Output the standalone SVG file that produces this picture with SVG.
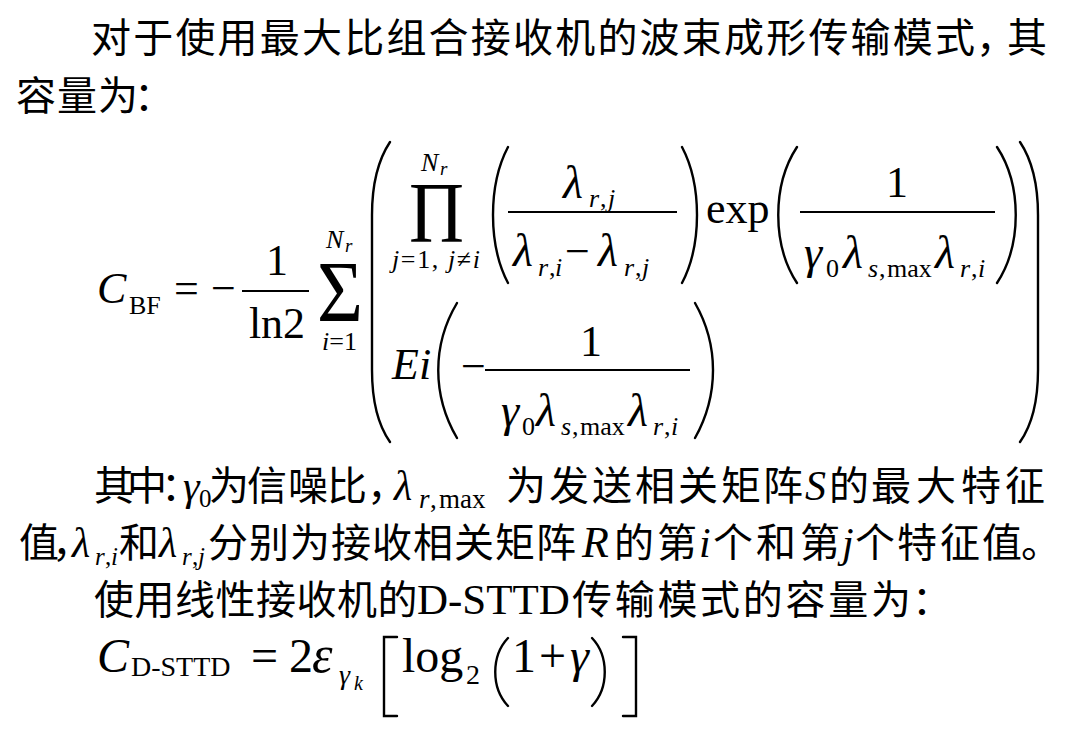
<svg xmlns="http://www.w3.org/2000/svg" width="1083" height="731" viewBox="0 0 1083 731">
<style>
.m{font-family:"Liberation Serif","Times New Roman",serif;fill:#000}
.i{font-style:italic}
.cn{font-family:"Noto Sans CJK SC","Noto Sans CJK TC",sans-serif;fill:#000;font-size:40px}
.f{font-size:44px}
.gk{font-size:46px}
.g{font-size:48px}
.s{font-size:26px}
.ss{font-size:19px}
.t{font-size:42px}
.p{fill:none;stroke:#000;stroke-width:2.4;stroke-linecap:round}
.bar{stroke:#000;stroke-width:2}
</style>
<rect width="1083" height="731" fill="#fff"/>

<g id="text-line1">
<text class="cn" y="52" x="91 133.2 175.4 217.6 259.8 302 344.2 386.4 428.6 470.8 513 555.2 597.4 639.6 681.8 724 766.2 808.4 850.6 892.8 935 976 1007">对于使用最大比组合接收机的波束成形传输模式，其</text>
</g>
<g id="text-line2">
<text class="cn" y="110" x="16 57 98 134">容量为：</text>
</g>

<g id="formula-bf">
<text class="m i f" x="97" y="303">C</text>
<text class="m s" x="129" y="314">BF</text>
<text class="m f" x="174" y="303">=</text>
<text class="m f" x="211" y="303">−</text>
<text class="m f" x="277" y="275" text-anchor="middle">1</text>
<line class="bar" x1="242" y1="291" x2="309" y2="291"/>
<text class="m f" x="277" y="338" text-anchor="middle">ln2</text>
<text class="m" x="317" y="321" font-size="87" textLength="46" lengthAdjust="spacingAndGlyphs">Σ</text>
<text class="m i s" x="326" y="248">N</text><text class="m i ss" x="345" y="252">r</text>
<text class="m s" x="322" y="350"><tspan class="i">i</tspan>=1</text>

<path class="p" d="M390 142 C378 160 372 185 372 215 L372 370 C372 400 378 425 390 442"/>
<path class="p" d="M1020 142 C1032 160 1038 185 1038 215 L1038 370 C1038 400 1032 425 1020 442"/>

<text class="m" x="409" y="242" font-size="86" textLength="55" lengthAdjust="spacingAndGlyphs">Π</text>
<text class="m i s" x="421" y="171">N</text><text class="m i ss" x="440" y="175">r</text>
<text class="m s" x="392" y="268" textLength="88" lengthAdjust="spacing"><tspan class="i">j</tspan>=1, <tspan class="i">j</tspan>≠<tspan class="i">i</tspan></text>

<path class="p" d="M508 147 C488 185 488 245 508 283"/>
<text class="m i gk" x="563" y="198">λ</text>
<text class="m s" y="207"><tspan class="i" x="589">r</tspan><tspan x="600">,</tspan><tspan class="i" x="608">j</tspan></text>
<line class="bar" x1="508" y1="212" x2="677" y2="212"/>
<text class="m i gk" x="513" y="266">λ</text>
<text class="m s" y="276"><tspan class="i" x="538">r</tspan><tspan x="549">,</tspan><tspan class="i" x="555">i</tspan></text>
<text class="m f" x="565" y="266">−</text>
<text class="m i gk" x="598" y="266">λ</text>
<text class="m s" y="276"><tspan class="i" x="624">r</tspan><tspan x="635">,</tspan><tspan class="i" x="642">j</tspan></text>
<path class="p" d="M682 147 C702 185 702 245 682 283"/>

<text class="m f" x="706" y="223">exp</text>
<path class="p" d="M797 147 C772 185 772 245 797 283"/>
<text class="m f" x="897" y="197" text-anchor="middle">1</text>
<line class="bar" x1="800" y1="212" x2="995" y2="212"/>
<text class="m i gk" x="804" y="268">γ</text>
<text class="m s" x="826" y="277">0</text>
<text class="m i gk" x="843" y="268">λ</text>
<text class="m s" y="277"><tspan class="i" x="868">s</tspan><tspan x="879">,</tspan><tspan x="887">max</tspan></text>
<text class="m i gk" x="935" y="268">λ</text>
<text class="m s" y="277"><tspan class="i" x="960">r</tspan><tspan x="971">,</tspan><tspan class="i" x="978">i</tspan></text>
<path class="p" d="M997 147 C1022 185 1022 245 997 283"/>

<text class="m i f" x="392" y="379">Ei</text>
<path class="p" d="M457 303 C432 345 432 395 457 438"/>
<text class="m f" x="461" y="381">−</text>
<text class="m f" x="591" y="356" text-anchor="middle">1</text>
<line class="bar" x1="485" y1="370" x2="690" y2="370"/>
<text class="m i gk" x="501" y="426">γ</text>
<text class="m s" x="522" y="435">0</text>
<text class="m i gk" x="536" y="426">λ</text>
<text class="m s" y="435"><tspan class="i" x="561">s</tspan><tspan x="572">,</tspan><tspan x="580">max</tspan></text>
<text class="m i gk" x="628" y="426">λ</text>
<text class="m s" y="435"><tspan class="i" x="653">r</tspan><tspan x="664">,</tspan><tspan class="i" x="671">i</tspan></text>
<path class="p" d="M695 303 C719 345 719 395 695 438"/>
</g>

<g id="text-line3">
<text class="cn" y="500" x="94 127 161">其中：</text>
<text class="m i t" x="183" y="500">γ</text><text class="m" font-size="25" x="199" y="507">0</text>
<text class="cn" y="500" x="209 247 288 327 367">为信噪比，</text>
<text class="m i t" x="394" y="500">λ</text>
<text class="m" font-size="27" y="508"><tspan class="i" x="419">r</tspan><tspan x="430">,</tspan><tspan x="439">max</tspan></text>
<text class="cn" y="500" x="506 549 592 635 678 721 763">为发送相关矩阵</text>
<text class="m i t" x="805" y="500">S</text>
<text class="cn" y="500" x="829 871 916 961 1005">的最大特征</text>
</g>

<g id="text-line4">
<text class="cn" y="557" x="19 52">值，</text>
<text class="m i t" x="72" y="557">λ</text>
<text class="m" font-size="25" y="565"><tspan class="i" x="95">r</tspan><tspan x="105">,</tspan><tspan class="i" x="111">i</tspan></text>
<text class="cn" y="557" x="119">和</text>
<text class="m i t" x="159" y="557">λ</text>
<text class="m" font-size="25" y="565"><tspan class="i" x="182">r</tspan><tspan x="192">,</tspan><tspan class="i" x="198">j</tspan></text>
<text class="cn" y="557" x="208 249 290 331 372 413 454 495 536">分别为接收相关矩阵</text>
<text class="m i" font-size="44" x="582" y="557">R</text>
<text class="cn" y="557" x="614 657">的第</text>
<text class="m i t" x="699" y="557">i</text>
<text class="cn" y="557" x="713 756 800">个和第</text>
<text class="m i t" x="842" y="557">j</text>
<text class="cn" y="557" x="855 897 940 982 1021">个特征值。</text>
</g>

<g id="text-line5">
<text class="cn" y="614" x="94 134.5 175 215.5 256 296.5 337 377.5">使用线性接收机的</text>
<text class="m" font-size="43" x="417" y="614">D-STTD</text>
<text class="cn" y="614" x="572 614.7 657.4 700.1 742.8 785.5 828.2 870.9 912">传输模式的容量为：</text>
</g>

<g id="formula-dsttd">
<text class="m i g" x="97" y="672">C</text>
<text class="m" font-size="28" x="131" y="676">D-STTD</text>
<text class="m g" x="251" y="672">=</text>
<text class="m g" x="289" y="672">2</text>
<text class="m i" font-size="52" x="312" y="672">ε</text>
<text class="m i" font-size="28" x="339" y="684">γ</text><text class="m i" font-size="20" x="354" y="690">k</text>
<path class="p" d="M397 637 L384 637 L384 716 L397 716"/>
<text class="m g" x="402" y="672">log</text>
<text class="m" font-size="28" x="466" y="684">2</text>
<path class="p" d="M508 638 C491 656 491 688 508 706"/>
<text class="m g" x="512" y="672">1</text>
<text class="m g" x="539" y="672">+</text>
<text class="m i g" x="570" y="672">γ</text>
<path class="p" d="M592 638 C609 656 609 688 592 706"/>
<path class="p" d="M623 637 L636 637 L636 716 L623 716"/>
</g>
</svg>
